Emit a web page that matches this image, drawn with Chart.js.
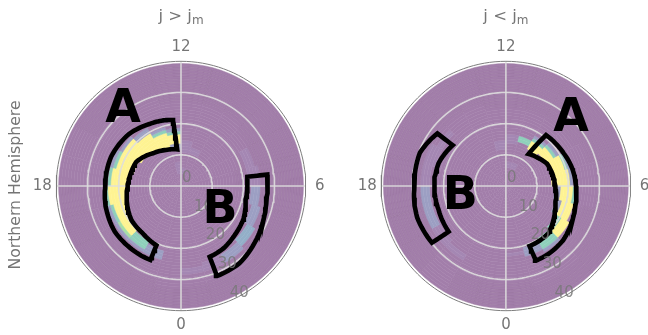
<!DOCTYPE html>
<html>
<head>
<meta charset="utf-8">
<style>
  body { margin: 0; background: #fff; }
  canvas { position: absolute; top: 0; }
</style>
<script src="https://cdn.jsdelivr.net/npm/chart.js@4"></script>
</head>
<body>
<canvas id="north-left" width="324" height="335" style="left:0"></canvas>
<canvas id="north-right" width="324" height="335" style="left:324px"></canvas>
<script>
// ---------- Data ----------
// cells: [local time bin, colatitude from, colatitude to, normalised value]
const leftCells = [
  [12, 4, 8, 0.15], [11, 4, 6, 0.15], [11, 11, 15, 0.15], [10, 11, 13, 0.15],
  [12, 12, 14, 0.3], [12, 14, 17, 1], [12, 17, 18, 0.6], [12, 18, 19, 0.3],
  [13, 13.5, 18, 1], [13, 18, 19, 0.6], [13, 19, 20.5, 0.3],
  [14, 14, 20, 1], [14, 20, 20.5, 0.6], [14, 20.5, 22, 0.3],
  [15, 15, 22, 1], [15, 22, 23, 0.3],
  [16, 16, 22, 1], [16, 22, 23, 0.6], [16, 23, 24, 0.3],
  [17, 17, 23, 1], [17, 23, 24, 0.6],
  [18, 18, 24, 1], [18, 24, 25, 0.6],
  [19, 19, 23, 1], [19, 23, 24, 0.6], [19, 24, 25, 0.3],
  [20, 20, 23, 1], [20, 23, 24, 0.75], [20, 24, 25, 0.3],
  [21, 21, 24, 0.6], [21, 24, 25, 0.3],
  [22, 22, 25, 0.3],
  [7, 22, 25, 0.15], [6, 22, 26, 0.15], [5, 23, 26, 0.3], [4, 24, 27.5, 0.3],
  [3, 25, 28.5, 0.45], [2, 26.5, 29, 0.3], [1, 26, 29, 0.15], [0, 27, 29, 0.15]
];
const rightCells = [
  [12, 12, 13, 0.15], [12, 13, 15, 0.15], [11, 14, 17, 0.15], [10, 6, 8, 0.15], [11, 6, 8, 0.15],
  [10, 15, 17, 0.6],
  [9, 14.5, 17.5, 1], [9, 17.5, 18, 0.6], [9, 18, 19, 0.3],
  [8, 15, 18.5, 1], [8, 18.5, 19, 0.6], [8, 19, 20, 0.3],
  [7, 15, 20.5, 1], [7, 20.5, 21, 0.6], [7, 21, 22, 0.3],
  [6, 15.5, 21, 1], [6, 21, 21.5, 0.6], [6, 21.5, 22.5, 0.3],
  [5, 16, 18, 0.3], [5, 18, 22, 1], [5, 22, 23, 0.6],
  [4, 17, 19.5, 0.3], [4, 19.5, 23, 1], [4, 23, 23.5, 0.6],
  [3, 19, 21, 0.6], [3, 21, 24, 1], [3, 24, 24.5, 0.3],
  [2, 20, 24, 0.6], [2, 24, 25, 0.3],
  [1, 21, 24, 0.3], [0, 22, 23, 0.15],
  [15, 24, 26, 0.15], [16, 24, 28, 0.15], [17, 25, 28, 0.15], [18, 25, 28, 0.3],
  [19, 25, 28, 0.3], [20, 25, 28, 0.15], [21, 26, 28, 0.15]
];
// colatitude where the thin cell edges start showing, one entry per local time bin
const leftEdgesFrom = [33, 33, 34, 30, 26, 22, 18, 20, 26, 28, 28, 28, 28, 30, 30, 32, 40, 40, 32, 30, 26, 24, 32, 34];
const rightEdgesFrom = [32, 34, 34, 28, 26, 30, 30, 28, 26, 26, 26, 26, 26, 28, 28, 28, 28, 28, 27, 27, 30, 40, 32, 32];

// outlines: [local time, colatitude]
const leftOutlineA = [
  [12.46, 21.3], [13, 21.8], [13.8, 22.3], [15, 23.6], [16.5, 24.3], [18, 24.3], [19, 25], [20.3, 25.8], [21.5, 25.7], [22.5, 25.7],
  [22.5, 20.6], [21.4, 19.5], [20.3, 19.3], [19, 18], [18, 17.1], [17, 16.6], [16.1, 16.3], [14.7, 13.8], [13.5, 12.5], [12.4, 11.8]
];
const leftOutlineB = [
  [6.5, 27.9], [5.4, 27.7], [4.5, 28.6], [3.6, 29.7], [2.47, 31.1], [1.45, 31.1],
  [1.47, 24.5], [2.3, 24.2], [3.2, 23.3], [4.1, 22.7], [5.2, 21.2], [6.53, 21.4]
];
const rightOutlineA = [
  [9.45, 20.8], [8.7, 21], [7.97, 21.3], [7, 22], [6, 22.5], [4.9, 23.2], [4, 24.2], [3.1, 25.3], [2.2, 25.7], [1.46, 25.8],
  [1.43, 20.7], [2.1, 20.6], [2.8, 20.4], [3.6, 18.8], [4.5, 17.1], [6, 15.8], [7, 15.4], [7.9, 15], [8.8, 13.6], [9.65, 12.6]
];
const rightOutlineB = [
  [15.5, 27.7], [16.6, 29.6], [18, 29.4], [19.3, 30.2], [20.5, 29.9],
  [20.57, 23.5], [19.3, 22.9], [18, 23], [16.75, 22.8], [15.5, 21.5]
];

const gridRings = [10, 20, 30];
const hourSpokes = [0, 6, 12, 18];
const hourLabels = ["0", "6", "12", "18"];
const radialLabels = ["0", "10", "20", "30", "40"];

// value levels and their colours (viridis at half alpha on white)
const colorLevels = [0, 0.15, 0.3, 0.45, 0.6, 0.75, 1];
const colorValues = ["#a27eaa", "#a487b3", "#9c9fc3", "#93afc8", "#8fd0bb", "#a8dfa6", "#fef392"];

// ---------- Helpers ----------
const MAX_COLAT = 40;
const RING_COUNT = 40;
const HOUR_COUNT = 24;

function polar(lt, colat) {
  const a = lt * Math.PI / 12;
  return { x: colat * Math.sin(a), y: -colat * Math.cos(a) };
}

function levelColor(v) {
  let i = 0;
  while (i < colorLevels.length - 1 && colorLevels[i + 1] <= v) i++;
  return colorValues[i];
}

function cellValue(cells, hour, colat) {
  const mid = colat + 0.5;
  const hit = cells.find(c => c[0] === hour && mid >= c[1] && mid < c[2]);
  return hit ? hit[3] : 0;
}

// one doughnut dataset per colatitude ring, outermost first, slices run clockwise from 24 LT
function ringDatasets(cells, edgesFrom) {
  const rings = [];
  for (let colat = RING_COUNT - 1; colat >= 0; colat--) {
    const bg = [];
    const edge = [];
    for (let s = 0; s < HOUR_COUNT; s++) {
      const hour = HOUR_COUNT - 1 - s;
      const color = levelColor(cellValue(cells, hour, colat));
      bg.push(color);
      edge.push(colat >= edgesFrom[hour] && color === colorValues[0] ? "#98749f" : color);
    }
    rings.push({
      type: "doughnut",
      data: new Array(HOUR_COUNT).fill(1),
      backgroundColor: bg,
      borderColor: edge,
      borderWidth: 0.5,
      hoverOffset: 0,
      cutout: 0,
      rotation: 180,
      order: 10
    });
  }
  return rings;
}

function lineDataset(points, color, width, order) {
  return {
    type: "scatter",
    data: points,
    showLine: true,
    pointRadius: 0,
    borderColor: color,
    borderWidth: width,
    borderJoinStyle: "miter",
    borderCapStyle: "butt",
    weight: 0,
    clip: false,
    order: order
  };
}

function circlePoints(colat) {
  const pts = [];
  for (let i = 0; i <= 144; i++) pts.push(polar(i / 6, colat));
  return pts;
}

// walk the outline in polar space so the long sides stay curved
function outlinePoints(outline) {
  const pts = [];
  const closed = outline.concat([outline[0], outline[1]]);
  for (let i = 0; i < closed.length - 1; i++) {
    const [lt0, c0] = closed[i];
    const [lt1, c1] = closed[i + 1];
    for (let k = 0; k < 8; k++) {
      pts.push(polar(lt0 + (lt1 - lt0) * k / 8, c0 + (c1 - c0) * k / 8));
    }
  }
  const last = closed[closed.length - 1];
  pts.push(polar(last[0], last[1]));
  return pts;
}

// ---------- Text plugin ----------
function panelText(panel) {
  return {
    id: "panelText",
    afterDraw(chart) {
      const { ctx, scales: { x, y } } = chart;
      const at = (lt, colat) => {
        const p = polar(lt, colat);
        return [x.getPixelForValue(p.x), y.getPixelForValue(p.y)];
      };
      ctx.save();
      ctx.textBaseline = "middle";

      ctx.font = "15px 'DejaVu Sans'";
      ctx.fillStyle = "#757575";
      ctx.textAlign = "center";
      hourLabels.forEach(label => {
        const [px, py] = at(Number(label), MAX_COLAT + 4.5);
        ctx.fillText(label, px, py);
      });

      // title, with the small m set by hand
      const cx = x.getPixelForValue(0);
      ctx.textAlign = "left";
      ctx.font = "16.5px 'DejaVu Sans'";
      const head = panel.relation === ">" ? "j > j" : "j < j";
      const headWidth = ctx.measureText(head).width;
      ctx.font = "12px 'DejaVu Sans'";
      const subWidth = ctx.measureText("m").width;
      ctx.font = "16.5px 'DejaVu Sans'";
      const titleX = cx - (headWidth + subWidth) / 2;
      ctx.fillText(head, titleX, 17);
      ctx.font = "12px 'DejaVu Sans'";
      ctx.fillText("m", titleX + headWidth, 21);

      if (panel.sideTitle) {
        ctx.save();
        ctx.translate(16, 185);
        ctx.rotate(-Math.PI / 2);
        ctx.textAlign = "center";
        ctx.font = "15.7px 'DejaVu Sans'";
        ctx.fillText(panel.sideTitle, 0, 0);
        ctx.restore();
      }

      ctx.font = "15px 'DejaVu Sans'";
      ctx.fillStyle = "rgba(120,120,120,0.85)";
      ctx.textAlign = "left";
      radialLabels.forEach(label => {
        const [px, py] = at(1.5, Number(label));
        ctx.fillText(label, px + 1, py - 8);
      });

      ctx.font = "bold 46px 'DejaVu Sans'";
      ctx.fillStyle = "#000";
      ctx.textAlign = "center";
      panel.letters.forEach(l => {
        ctx.fillText(l.text, x.getPixelForValue(l.x), y.getPixelForValue(l.y));
      });
      ctx.restore();
    }
  };
}

// ---------- Chart rendering ----------
function drawPanel(panel) {
  const datasets = [];
  panel.outlines.forEach(o => datasets.push(lineDataset(outlinePoints(o), "#000", 4.6, 1)));
  datasets.push(lineDataset(circlePoints(MAX_COLAT), "#7d7d7d", 1, 2));
  gridRings.forEach(r => datasets.push(lineDataset(circlePoints(r), "rgba(222,222,222,0.9)", 1.6, 3)));
  hourSpokes.forEach(h => datasets.push(lineDataset([polar(h, 0), polar(h, MAX_COLAT)], "rgba(222,222,222,0.9)", 1.6, 3)));
  ringDatasets(panel.cells, panel.edgesFrom).forEach(d => datasets.push(d));

  new Chart(document.getElementById(panel.canvas), {
    type: "scatter",
    data: { datasets: datasets },
    options: {
      responsive: false,
      animation: false,
      layout: { padding: panel.padding },
      plugins: { legend: { display: false }, tooltip: { enabled: false } },
      events: [],
      scales: {
        x: { display: false, min: -MAX_COLAT, max: MAX_COLAT },
        y: { display: false, min: -MAX_COLAT, max: MAX_COLAT }
      }
    },
    plugins: [panelText(panel)]
  });
}

drawPanel({
  canvas: "north-left",
  relation: ">",
  sideTitle: "Northern Hemisphere",
  cells: leftCells,
  edgesFrom: leftEdgesFrom,
  outlines: [leftOutlineA, leftOutlineB],
  padding: { left: 56.3, right: 18.3, top: 61.3, bottom: 24.3 },
  letters: [{ text: "A", x: -18.6, y: 24.4 }, { text: "B", x: 12.5, y: -8 }]
});

drawPanel({
  canvas: "north-right",
  relation: "<",
  cells: rightCells,
  edgesFrom: rightEdgesFrom,
  outlines: [rightOutlineA, rightOutlineB],
  padding: { left: 57.2, right: 17.4, top: 61.3, bottom: 24.3 },
  letters: [{ text: "A", x: 20.9, y: 21.5 }, { text: "B", x: -14.6, y: -3.6 }]
});
</script>
</body>
</html>
